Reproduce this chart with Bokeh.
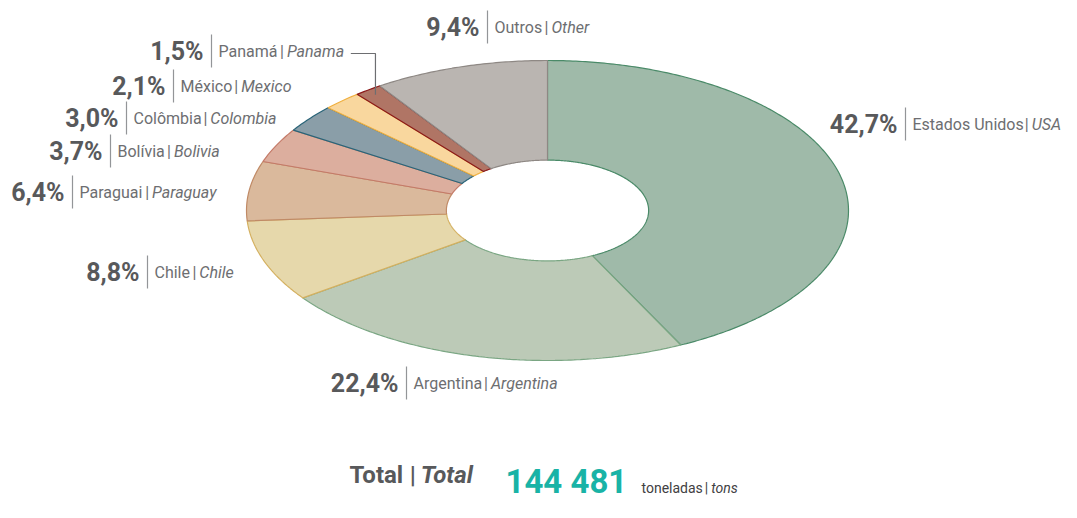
import numpy as np
from bokeh.plotting import figure
from bokeh.models import Range1d, ColumnDataSource
from bokeh.core.properties import value
from bokeh.embed import file_html
from bokeh.resources import INLINE

# ---------------- data ----------------
countries_pt = ["Estados Unidos", "Argentina", "Chile", "Paraguai", "Bolívia",
                "Colômbia", "México", "Panamá", "Outros"]
countries_en = ["USA", "Argentina", "Chile", "Paraguay", "Bolivia",
                "Colombia", "Mexico", "Panama", "Other"]
shares = [42.7, 22.4, 8.8, 6.4, 3.7, 3.0, 2.1, 1.5, 9.4]
total_value = "144 481"
total_pt, total_en = "Total", "Total"
unit_pt, unit_en = "toneladas", "tons"

# ---------------- styles / layout ----------------
fill_colors = ["#9fbaa9", "#bccab7", "#e6d8ab", "#dab99c", "#dcae9e",
               "#8a9ea8", "#f9d79e", "#b07565", "#bab5b1"]
line_colors = ["#4a8a68", "#7aa683", "#d4b060", "#c08a66", "#c47a68",
               "#2a6478", "#f0b040", "#8b1a1a", "#8e8884"]
CX, CY, RX, RY = 547, 210, 301, 150
INNER = 0.336
# (separator x, label centre y) for each label
label_pos = [(905, 123), (406, 382), (147, 271), (72, 191), (110, 150),
             (126, 117), (173, 85), (211, 50), (487, 26)]
PCT_COLOR = "#58595b"
NAME_COLOR = "#6d6e71"
SEP_COLOR = "#939598"
FONT = "Roboto"
W, H = 1061, 502
BASE_FIX = 0.34  # empirical shift of the alphabetic baseline (em)

# approximate Roboto advance widths (units of 2048)
_W = {' ': 507, '%': 1465, ',': 393, '|': 498, '.': 527}
for c in "0123456789":
    _W[c] = 1150
_W.update(dict(A=1336, B=1275, C=1333, D=1343, E=1164, F=1132, G=1395, H=1461,
               I=557, J=1130, K=1284, L=1102, M=1788, N=1461, O=1409, P=1292,
               Q=1409, R=1261, S=1216, T=1221, U=1329, V=1303, W=1817, X=1284,
               Y=1230, Z=1226, a=1114, b=1122, c=1046, d=1126, e=1058, f=694,
               g=1120, h=1102, i=486, j=478, k=1014, l=486, m=1751, n=1104,
               o=1140, p=1122, q=1130, r=678, s=1031, t=653, u=1103, v=968,
               w=1502, x=992, y=946, z=992))
_W.update({'á': 1114, 'é': 1058, 'í': 486, 'ô': 1140})


def tw(s, size, bold=False, italic=False):
    w = sum(_W.get(ch, 1100) for ch in s) / 2048.0 * size
    if bold:
        w *= 1.04
    if italic:
        w *= 0.99
    return w


def by(baseline, size):
    return baseline - BASE_FIX * size


# ---------------- figure ----------------
p = figure(width=W, height=H, x_range=Range1d(0, W), y_range=Range1d(H, 0),
           output_backend="svg", toolbar_location=None, min_border=0)
p.axis.visible = False
p.grid.visible = False
p.outline_line_color = None
p.background_fill_color = "white"
p.border_fill_color = "white"

# donut slices (ellipse)
fr = np.array(shares) / float(sum(shares))
cum = np.concatenate([[0.0], np.cumsum(fr)])
xs, ys = [], []
for a0, a1 in zip(cum[:-1], cum[1:]):
    n = max(int((a1 - a0) * 600), 10)
    t = np.linspace(a0, a1, n) * 2 * np.pi
    tr = t[::-1]
    ox = CX + RX * np.sin(t)
    oy = CY - RY * np.cos(t)
    ix = CX + RX * INNER * np.sin(tr)
    iy = CY - RY * INNER * np.cos(tr)
    xs.append(list(np.concatenate([ox, ix])))
    ys.append(list(np.concatenate([oy, iy])))
src = ColumnDataSource(dict(xs=xs, ys=ys, fill=fill_colors, line=line_colors))
p.patches("xs", "ys", source=src, fill_color="fill", line_color="line", line_width=1.2)

# labels
PCT_SIZE, NAME_SIZE = 25, 16
pct_x, pct_y, pct_t = [], [], []
pt_x, pt_y, pt_t = [], [], []
bar_x, en_x, en_t = [], [], []
sep_x0, sep_y0, sep_y1 = [], [], []
for i, (sx, cy) in enumerate(label_pos):
    pct_x.append(sx - 8)
    pct_y.append(by(cy + 9, PCT_SIZE))
    pct_t.append(("%.1f" % shares[i]).replace(".", ",") + "%")
    nx = sx + 7
    pt_x.append(nx)
    pt_y.append(by(cy + 6, NAME_SIZE))
    pt_t.append(countries_pt[i])
    bx = nx + tw(countries_pt[i], NAME_SIZE) + 3
    bar_x.append(bx)
    en_x.append(bx + tw("|", NAME_SIZE) + 3)
    en_t.append(countries_en[i])
    sep_x0.append(sx)
    sep_y0.append(cy - 16)
    sep_y1.append(cy + 17)

p.segment(x0=sep_x0, y0=sep_y0, x1=sep_x0, y1=sep_y1, line_color=SEP_COLOR, line_width=1.2)
p.text(x=pct_x, y=pct_y, text=pct_t, text_font=value(FONT), text_font_size=f"{PCT_SIZE}px",
       text_font_style="bold", text_color=PCT_COLOR, text_align="right",
       text_baseline="alphabetic")
p.text(x=pt_x, y=pt_y, text=pt_t, text_font=value(FONT), text_font_size=f"{NAME_SIZE}px",
       text_color=NAME_COLOR, text_align="left", text_baseline="alphabetic")
p.text(x=bar_x, y=pt_y, text=["|"] * len(bar_x), text_font=value(FONT),
       text_font_size=f"{NAME_SIZE}px", text_color=NAME_COLOR, text_align="left",
       text_baseline="alphabetic")
p.text(x=en_x, y=pt_y, text=en_t, text_font=value(FONT), text_font_size=f"{NAME_SIZE}px",
       text_font_style="italic", text_color=NAME_COLOR, text_align="left",
       text_baseline="alphabetic")

# Panama leader line
k = countries_en.index("Panama")
mid = (cum[k] + cum[k + 1]) / 2 * 2 * np.pi
ex = CX + RX * 0.96 * np.sin(mid)
ey = CY - RY * 0.96 * np.cos(mid)
lx0 = en_x[k] + tw(countries_en[k], NAME_SIZE, italic=True) + 6
ly = label_pos[k][1] + 3
p.line(x=[lx0, ex, ex], y=[ly, ly, ey], line_color="#6d6e71", line_width=1.2)

# total row
TOT_SIZE, VAL_SIZE, UNIT_SIZE = 24, 33, 14
TB, VB, UB = 483, 492, 492
tx0 = 349
p.text(x=[tx0], y=[by(TB, TOT_SIZE)], text=[total_pt], text_font=value(FONT),
       text_font_size=f"{TOT_SIZE}px", text_font_style="bold", text_color=PCT_COLOR,
       text_baseline="alphabetic")
bx = tx0 + tw(total_pt, TOT_SIZE, bold=True) + 4
p.text(x=[bx], y=[by(TB, TOT_SIZE)], text=["|"], text_font=value(FONT),
       text_font_size=f"{TOT_SIZE}px", text_font_style="bold", text_color=PCT_COLOR,
       text_baseline="alphabetic")
p.text(x=[bx + tw("|", TOT_SIZE, bold=True) + 5], y=[by(TB, TOT_SIZE)], text=[total_en],
       text_font=value(FONT), text_font_size=f"{TOT_SIZE}px", text_font_style="bold italic",
       text_color=PCT_COLOR, text_baseline="alphabetic")
p.text(x=[505], y=[by(VB, VAL_SIZE)], text=[total_value], text_font=value(FONT),
       text_font_size=f"{VAL_SIZE}px", text_font_style="bold", text_color="#19b3a6",
       text_baseline="alphabetic")
ux = 641
p.text(x=[ux], y=[by(UB, UNIT_SIZE)], text=[unit_pt], text_font=value(FONT),
       text_font_size=f"{UNIT_SIZE}px", text_color="#414042", text_baseline="alphabetic")
ubx = ux + tw(unit_pt, UNIT_SIZE) + 3
p.text(x=[ubx], y=[by(UB, UNIT_SIZE)], text=["|"], text_font=value(FONT),
       text_font_size=f"{UNIT_SIZE}px", text_color="#414042", text_baseline="alphabetic")
p.text(x=[ubx + tw("|", UNIT_SIZE) + 3], y=[by(UB, UNIT_SIZE)], text=[unit_en],
       text_font=value(FONT), text_font_size=f"{UNIT_SIZE}px", text_font_style="italic",
       text_color="#414042", text_baseline="alphabetic")

open("out.html", "w").write(file_html(p, INLINE))
